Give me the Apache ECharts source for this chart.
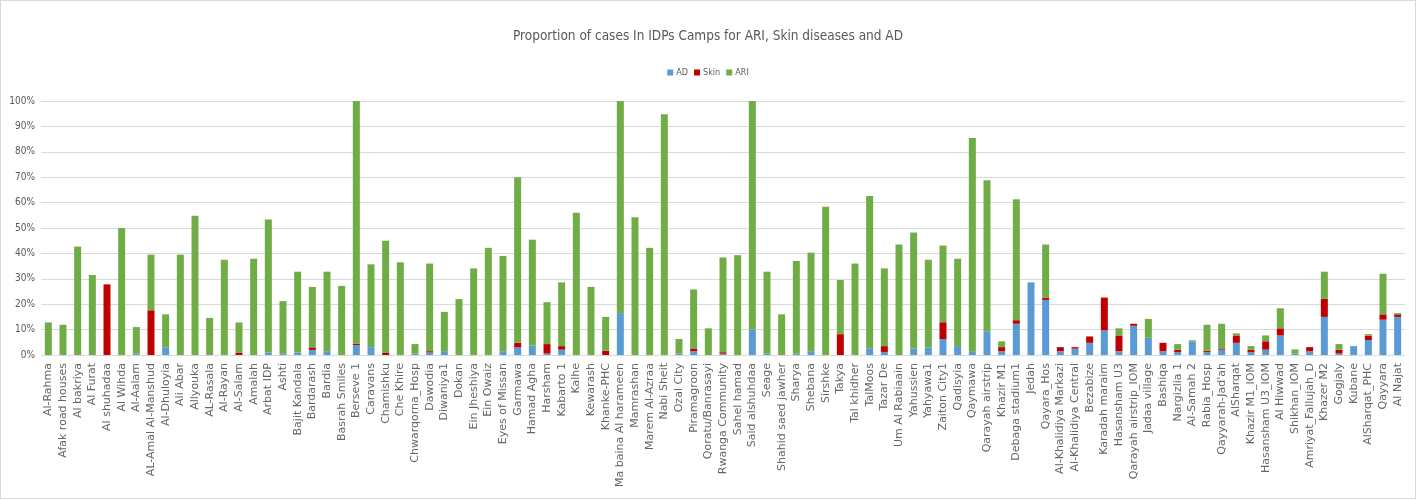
<!DOCTYPE html>
<html>
<head>
<meta charset="utf-8">
<title>Proportion of cases In IDPs Camps</title>
<script src="https://cdn.jsdelivr.net/npm/echarts@6/dist/echarts.min.js"></script>
</head>
<body style="margin:0;background:#fff">
<div id="main" style="width:1414px;height:497px;border:1px solid #d9d9d9"></div>
<script type="text/javascript">
var camps = ['Al-Rahma', 'Afak road houses', 'Al bakriya', 'Al Furat', 'Al shuhadaa', 'Al Wihda', 'Al-Aalam',
    'AL-Amal Al-Manshud', 'Al-Dhuloyia', 'Ali Abar', 'Allyouka', 'AL-Rasala', 'Al-Rayan', 'Al-Salam', 'Amalah',
    'Arbat IDP', 'Ashti', 'Bajit Kandala', 'Bardarash', 'Bardia', 'Basrah Smiles', 'Berseve 1', 'Caravans',
    'Chamishku', 'Che Khire', 'Chwarqorna_Hosp', 'Dawodia', 'Diwaniya1', 'Dokan', 'Ein Jheshiya', 'Ein Owaiz',
    'Eyes of Missan', 'Garmawa', 'Hamad Agha', 'Harsham', 'Kabarto 1', 'Kalhe', 'Kewarash', 'Khanke-PHC',
    'Ma baina Al harameen', 'Mamrashan', 'Marem Al-Azraa', 'Nabi Sheit', 'Ozal City', 'Piramagroon',
    'Qoratu/Banrasayi', 'Rwanga Community', 'Sahel hamad', 'Said alshuhdaa', 'Seage', 'Shahid saed jawher',
    'Sharya', 'Shebana', 'Sirshke', 'Takya', 'Tal khidher', 'TalMoos', 'Tazar De', 'Um Al Rabiaain',
    'Yahussien', 'Yahyawa1', 'Zaiton City1', 'Qadisyia', 'Qaymawa', 'Qarayah airstrip', 'Khazir M1',
    'Debaga stadium1', 'Jedah', 'Qayara_Hos', 'Al-Khalidiya Markazi', 'Al-Khalidiya Central', 'Bezabize',
    'Karadah maraim', 'Hasansham U3', 'Qarayah airstrip_IOM', 'Jadaa village', 'Bashiqa', 'Nargizlia 1',
    'Al-Samah 2', 'Rabia_Hosp', "Qayyarah-Jad'ah", 'AlSharqat', 'Khazir M1_IOM', 'Hasansham U3_IOM',
    'Al Hiwwad', 'Shikhan_IOM', 'Amriyat_Fallujah_D', 'Khazer M2', 'Gogjaly', 'Kubane', 'AlSharqat_PHC',
    'Qayyara', 'Al Najat'];

// percent of cases, stacked AD + Skin + ARI
var adValues = [0, 0, 0, 0, 0, 0, 0.5, 0, 3, 0, 0, 0, 0, 0, 0,
    1, 0.5, 1, 2, 1.5, 0, 3.9, 3.1, 0, 0, 0.5, 1, 1.5, 0, 0, 0,
    1.5, 3, 3.7, 0.6, 2.1, 0, 0, 0, 16.5, 0, 0, 0, 0.5, 1.5,
    0, 0.5, 0, 10, 0.5, 0, 0.5, 1.5, 0, 0, 0, 2.6, 1.2, 0,
    2.6, 3, 6.3, 3.5, 1.5, 9.3, 1.5, 12.3, 28.6, 21.7, 1.5, 2.5, 4.8,
    9.7, 1.5, 11.5, 6.8, 1.5, 1.2, 5.4, 1.2, 2.1, 4.8, 1.2, 2.1,
    7.7, 0.5, 1.5, 15, 0.6, 3.5, 5.9, 13.9, 15];
var skinValues = [0, 0, 0, 0, 27.8, 0, 0, 17.6, 0, 0, 0, 0, 0, 0.8, 0,
    0, 0, 0, 1, 0, 0, 0.6, 0, 0.8, 0, 0, 0.5, 0, 0, 0, 0,
    0, 1.8, 0, 3.7, 1.4, 0, 0, 1.7, 0, 0, 0, 0, 0, 1.1,
    0, 0.6, 0, 0, 0, 0, 0, 0, 0, 8.2, 0, 0, 2.3, 0,
    0, 0, 6.6, 0, 0, 0, 1.6, 1.4, 0, 0.9, 1.6, 0.6, 2.5,
    12.9, 6.2, 0.8, 0, 3.3, 0.9, 0, 0.5, 0.5, 2.9, 0.9, 3.3,
    2.8, 0, 1.6, 7.1, 1.5, 0, 1.7, 2.1, 1];
var ariValues = [12.8, 11.9, 42.7, 31.5, 0, 50, 10.5, 21.9, 13, 39.5, 54.8, 14.6, 37.5, 12, 37.9,
    52.3, 20.7, 31.8, 23.8, 31.3, 27.2, 95.5, 32.6, 44.2, 36.5, 3.8, 34.5, 15.5, 22, 34.1, 42.2,
    37.5, 65.2, 41.7, 16.5, 25.1, 56, 26.8, 13.3, 83.5, 54.2, 42.2, 94.8, 5.8, 23.2,
    10.5, 37.3, 39.3, 90, 32.3, 16, 36.5, 38.8, 58.4, 21.3, 36, 60, 30.6, 43.5,
    45.6, 34.5, 30.2, 34.4, 83.9, 59.5, 2.3, 47.6, 0, 20.9, 0, 0, 0,
    0, 2.8, 0, 7.4, 0, 2.2, 0.4, 10.2, 9.7, 0.8, 1.4, 2.3,
    7.9, 1.7, 0, 10.7, 2.2, 0, 0.6, 16, 0.5];

var chart = echarts.init(document.getElementById('main'));
var labelFont = 'DejaVu Sans';
var titleFont = "'DejaVu Sans Condensed', sans-serif";

var option = {
    animation: false,
    title: {
        text: 'Proportion of cases In IDPs Camps for ARI, Skin diseases and AD',
        left: 'center',
        top: 23,
        textStyle: {fontFamily: titleFont, fontSize: 13.5, fontWeight: 'normal', color: '#595959'}
    },
    legend: {
        top: 62,
        left: 'center',
        itemWidth: 6,
        itemHeight: 6,
        itemGap: 6,
        icon: 'rect',
        textStyle: {fontFamily: titleFont, fontSize: 9, color: '#595959', padding: [0, 0, 0, -2]},
        data: ['AD', 'Skin', 'ARI']
    },
    grid: {left: 40, right: 10, top: 100, bottom: 143},
    xAxis: {
        type: 'category',
        data: camps,
        axisTick: {show: false},
        axisLine: {lineStyle: {color: '#d9d9d9'}},
        axisLabel: {
            interval: 0,
            rotate: 90,
            margin: 8,
            fontFamily: labelFont,
            fontSize: 11,
            color: '#666666'
        }
    },
    yAxis: {
        type: 'value',
        min: 0,
        max: 100,
        interval: 10,
        axisLine: {show: false},
        axisTick: {show: false},
        splitLine: {lineStyle: {color: '#d9d9d9'}},
        axisLabel: {
            formatter: '{value}%',
            fontFamily: titleFont,
            fontSize: 10,
            color: '#595959',
            margin: 6
        }
    },
    series: [
        {name: 'AD', type: 'bar', stack: 'all', data: adValues, barWidth: 7, itemStyle: {color: '#5b9bd5'}},
        {name: 'Skin', type: 'bar', stack: 'all', data: skinValues, barWidth: 7, itemStyle: {color: '#c00000'}},
        {name: 'ARI', type: 'bar', stack: 'all', data: ariValues, barWidth: 7, itemStyle: {color: '#70ad47'}}
    ]
};
chart.setOption(option);
</script>
</body>
</html>
